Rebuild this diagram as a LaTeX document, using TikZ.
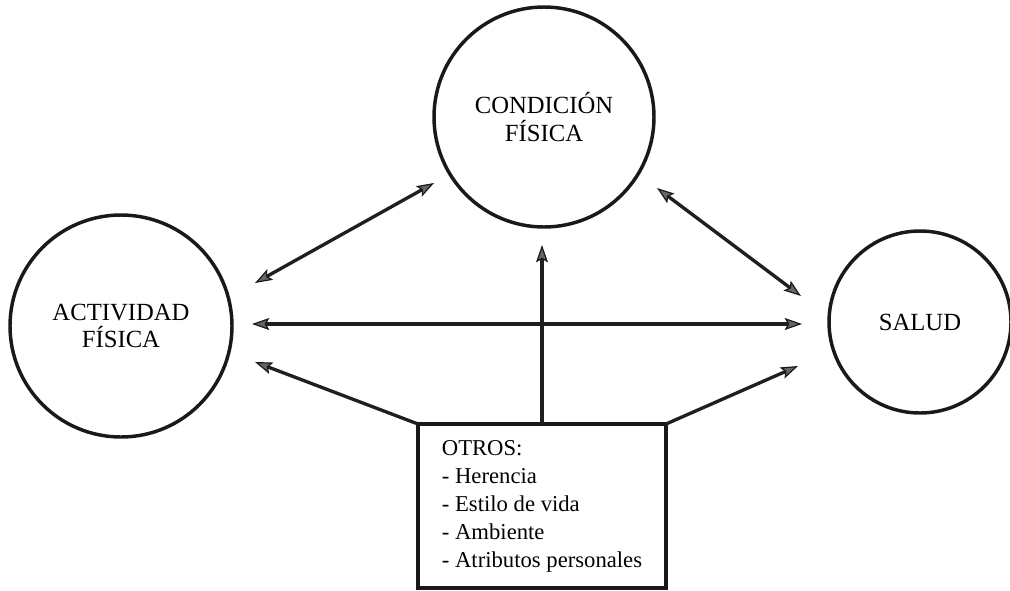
\documentclass[tikz,border=0pt]{standalone}
\usepackage{fontspec}
\setmainfont{Liberation Serif}
\usetikzlibrary{arrows.meta}
\begin{document}
\begin{tikzpicture}[x=0.75pt,y=-0.75pt,
  arrowtip/.tip={Stealth[length=13pt,width=9pt,inset=2.5pt,fill=black!60,color=black!90,line width=0.9pt]},
  circ/.style={circle,draw=black!90,line width=2.6pt,minimum size=#1,inner sep=0pt,outer sep=0pt,align=center,font=\fontsize{18.5}{20.5}\selectfont},
  conn/.style={line width=2.5pt,draw=black!88},
  otros/.style={draw=black!90,line width=2.5pt,minimum width=186pt,minimum height=123pt,inner sep=0pt,outer sep=0pt,align=left,font=\fontsize{17}{21}\selectfont}
]
\useasboundingbox (0,0) rectangle (1010,590);
\node[circ=165pt] (cf) at (544,117) {CONDICIÓN\\FÍSICA};
\node[circ=166.5pt] (af) at (121,326) {ACTIVIDAD\\FÍSICA};
\node[circ=136.5pt] (sa) at (920,322) {SALUD};
\node[otros] (ot) at (542,506) {OTROS:\\- Herencia\\- Estilo de vida\\- Ambiente\\- Atributos personales};
\coordinate (a1) at (255,283);
\coordinate (a2) at (434,183);
\coordinate (b1) at (657,188);
\coordinate (b2) at (801,296);
\coordinate (c1) at (252,324);
\coordinate (c2) at (802,324);
\coordinate (d) at (542,245);
\coordinate (e) at (255,362);
\coordinate (f) at (798,366);
\draw[conn,{arrowtip}-{arrowtip}] (a1) -- (a2);
\draw[conn,{arrowtip}-{arrowtip}] (b1) -- (b2);
\draw[conn,{arrowtip}-{arrowtip}] (c1) -- (c2);
\draw[conn,-{arrowtip}] (ot.north) -- (ot.north |- d);
\draw[conn,-{arrowtip}] (ot.north west) -- (e);
\draw[conn,-{arrowtip}] (ot.north east) -- (f);
\end{tikzpicture}
\end{document}
